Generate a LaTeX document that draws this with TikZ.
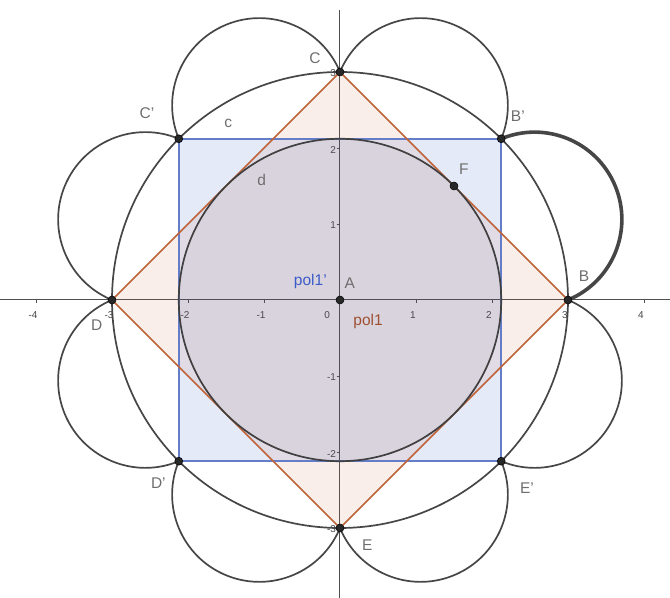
\documentclass[tikz,border=0pt]{standalone}
\usepackage{fontspec}
\setmainfont{Liberation Sans}
\definecolor{axisgray}{RGB}{80,80,80}
\definecolor{curvegray}{RGB}{70,70,70}
\definecolor{labgray}{RGB}{110,110,110}
\definecolor{tickgray}{RGB}{70,70,70}
\definecolor{ptfill}{RGB}{40,40,40}
\definecolor{orangeedge}{RGB}{190,100,60}
\definecolor{orangefill}{RGB}{204,102,51}
\definecolor{blueedge}{RGB}{100,125,200}
\definecolor{bluefill}{RGB}{40,80,200}
\definecolor{bluetext}{RGB}{60,90,200}
\definecolor{browntext}{RGB}{160,80,50}
\begin{document}
\begin{tikzpicture}[x=76pt,y=76pt,
  ptlabel/.style={text=labgray, font=\fontsize{15.5}{15.5}\selectfont, inner sep=0pt},
  ticklab/.style={text=tickgray, font=\fontsize{10}{10}\selectfont, inner sep=0pt},
  dot/.style={circle, fill=ptfill, draw=black, line width=0.5pt, minimum size=8pt, inner sep=0pt},
  curve/.style={draw=curvegray, line width=1.7pt},
  thickcurve/.style={draw=curvegray, line width=3.6pt},
  axisline/.style={draw=axisgray, line width=1pt}]
\useasboundingbox (-340/76,-298/76) rectangle (330/76,300/76);
% points
\coordinate (A) at (0,0);
\coordinate (B) at (3,0);
\coordinate (Bp) at (2.12132,2.12132);
\coordinate (C) at (0,3);
\coordinate (Cp) at (-2.12132,2.12132);
\coordinate (D) at (-3,0);
\coordinate (Dp) at (-2.12132,-2.12132);
\coordinate (E) at (0,-3);
\coordinate (Ep) at (2.12132,-2.12132);
\coordinate (F) at (1.5,1.5);
\coordinate (xl) at (-340/76,0);
\coordinate (xr) at (330/76,0);
\coordinate (yt) at (0,290/76);
\coordinate (yb) at (0,-298/76);
% axes
\draw[axisline] (xl) -- (xr);
\draw[axisline] (yb) -- (yt);
\foreach \i in {-4,-3,-2,-1,1,2,3,4} {
  \draw[axisgray, line width=0.8pt] (\i,-3pt) -- (\i,0);
  \node[ticklab] at (\i-0.04,-0.2) {\i};
}
\foreach \i in {-3,-2,-1,1,2,3} {
  \draw[axisgray, line width=0.8pt] (-3pt,\i) -- (0,\i);
  \node[ticklab, anchor=east] at (-0.05,\i-0.02) {\i};
}
\node[ticklab] at (-0.17,-0.2) {0};
% fills
\fill[orangefill, opacity=0.11] (C) -- (B) -- (E) -- (D) -- cycle;
\fill[bluefill, opacity=0.12] (Bp) -- (Cp) -- (Dp) -- (Ep) -- cycle;
\fill[black, opacity=0.035] (A) circle[radius=2.12132];
% polygons
\draw[blueedge, line width=1.6pt] (Bp) -- (Cp) -- (Dp) -- (Ep) -- cycle;
\draw[orangeedge, line width=1.5pt] (C) -- (B) -- (E) -- (D) -- cycle;
% circles
\draw[curve] (A) circle[radius=3];
\draw[curve, draw=black!75] (A) circle[radius=2.12132];
% petals
\draw[thickcurve] (B) arc[start angle=-67.5, end angle=112.5, radius=1.14805];
\draw[curve] (Bp) arc[start angle=-22.5, end angle=157.5, radius=1.14805];
\draw[curve] (C) arc[start angle=22.5, end angle=202.5, radius=1.14805];
\draw[curve] (Cp) arc[start angle=67.5, end angle=247.5, radius=1.14805];
\draw[curve] (D) arc[start angle=112.5, end angle=292.5, radius=1.14805];
\draw[curve] (Dp) arc[start angle=157.5, end angle=337.5, radius=1.14805];
\draw[curve] (E) arc[start angle=202.5, end angle=382.5, radius=1.14805];
\draw[curve] (Ep) arc[start angle=247.5, end angle=427.5, radius=1.14805];
% dots
\foreach \p in {A,B,Bp,C,Cp,D,Dp,E,Ep,F} {\node[dot] (dot\p) at (\p) {};}
% labels
\node[ptlabel] (lC) at (-0.33,3.18) {C};
\node[ptlabel] (lCp) at (-2.54,2.46) {C'};
\node[ptlabel] (lc) at (-1.47,2.32) {c};
\node[ptlabel] (ld) at (-1.03,1.58) {d};
\node[ptlabel] (lBp) at (2.34,2.42) {B'};
\node[ptlabel] (lF) at (1.63,1.72) {F};
\node[ptlabel] (lB) at (3.21,0.32) {B};
\node[ptlabel] (lA) at (0.13,0.22) {A};
\node[ptlabel, text=bluetext] (lpolp) at (-0.39,0.24) {pol1'};
\node[ptlabel, text=browntext] (lpol) at (0.37,-0.28) {pol1};
\node[ptlabel] (lD) at (-3.20,-0.33) {D};
\node[ptlabel] (lDp) at (-2.39,-2.41) {D'};
\node[ptlabel] (lEp) at (2.46,-2.47) {E'};
\node[ptlabel] (lE) at (0.36,-3.22) {E};
\end{tikzpicture}
\end{document}
